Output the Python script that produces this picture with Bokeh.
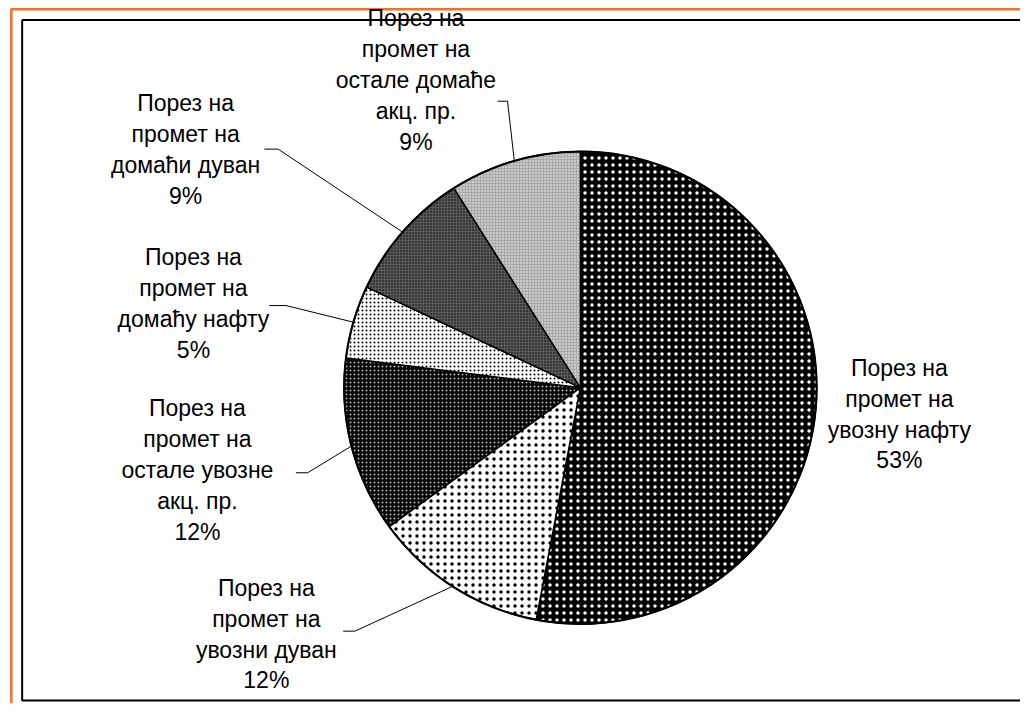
import math
from bokeh.plotting import figure
from bokeh.models import Range1d
from bokeh.core.properties import value
from bokeh.embed import file_html
from bokeh.resources import INLINE

# ---- data ----
categories = [
    "Порез на\nпромет на\nувозну нафту",
    "Порез на\nпромет на\nувозни дуван",
    "Порез на\nпромет на\nостале увозне\nакц. пр.",
    "Порез на\nпромет на\nдомаћу нафту",
    "Порез на\nпромет на\nдомаћи дуван",
    "Порез на\nпромет на\nостале домаће\nакц. пр.",
]
shares = [53, 12, 12, 5, 9, 9]
pct_labels = ["53%", "12%", "12%", "5%", "9%", "9%"]

# ---- styles ----
fills = ["#000000", "#ffffff", "#000000", "#ffffff", "#5a5a5a", "#a9a9a9"]
hatch_colors = ["#ffffff", "#000000", "#bbbbbb", "#000000", "#000000", "#ffffff"]
hatch_scales = [7, 7, 4, 4, 3, 3]

# layout (reference-picture coordinates, y downward)
W, H = 1020, 703
CX, CY, R = 589, 396, 240
label_pos = [(913, 423), (270, 648), (200, 480), (196, 310), (188, 152), (422, 81)]
leader_start = [None, (348, 645), (300, 483), (273, 312), (268, 152), (505, 103)]
leader_elbow = [None, (360, 645), (312, 483), (290, 312), (282, 152), (515, 103)]


def Y(y):
    return 719 - y


p = figure(width=W, height=H, output_backend="svg", toolbar_location=None,
           x_range=Range1d(0, 1036), y_range=Range1d(0, 719),
           min_border=0)
p.axis.visible = False
p.grid.visible = False
p.outline_line_color = None
p.background_fill_color = "white"
p.border_fill_color = "white"

# outer orange frame and inner black frame
p.line(x=[1050, 11, 11], y=[Y(9), Y(9), Y(740)], line_color="#f07427", line_width=2.5)
p.line(x=[1050, 22, 22, 1050], y=[Y(20), Y(20), Y(716), Y(716)], line_color="#000000", line_width=2)

total = float(sum(shares))
cum = 0.0
mids = []
for i, s in enumerate(shares):
    a0 = cum / total
    cum += s
    a1 = cum / total
    mids.append((a0 + a1) / 2)
    p.wedge(x=CX, y=Y(CY), radius=R,
            start_angle=math.pi / 2 - 2 * math.pi * a0,
            end_angle=math.pi / 2 - 2 * math.pi * a1,
            direction="clock",
            fill_color=fills[i], hatch_pattern="dot", hatch_color=hatch_colors[i],
            hatch_scale=hatch_scales[i], hatch_weight=1,
            line_color="black", line_width=1.5)

# outline
p.circle(x=CX, y=Y(CY), radius=R, fill_color=None, line_color="black", line_width=2)

# leaders
xs, ys = [], []
for i, m in enumerate(mids):
    if leader_start[i] is None:
        continue
    th = 2 * math.pi * m
    ex = CX + R * math.sin(th)
    ey = CY - R * math.cos(th)
    sx, sy = leader_start[i]
    kx, ky = leader_elbow[i]
    xs.append([sx, kx, ex])
    ys.append([Y(sy), Y(ky), Y(ey)])
p.multi_line(xs=xs, ys=ys, line_color="black", line_width=1)

texts = [c + "\n" + pl for c, pl in zip(categories, pct_labels)]
p.text(x=[lp[0] for lp in label_pos], y=[Y(lp[1]) for lp in label_pos], text=texts,
       text_align="center", text_baseline="middle",
       text_font=value("Liberation Sans"), text_font_size="23px",
       text_line_height=1.19, text_color="black")

open("out.html", "w").write(file_html(p, INLINE))
